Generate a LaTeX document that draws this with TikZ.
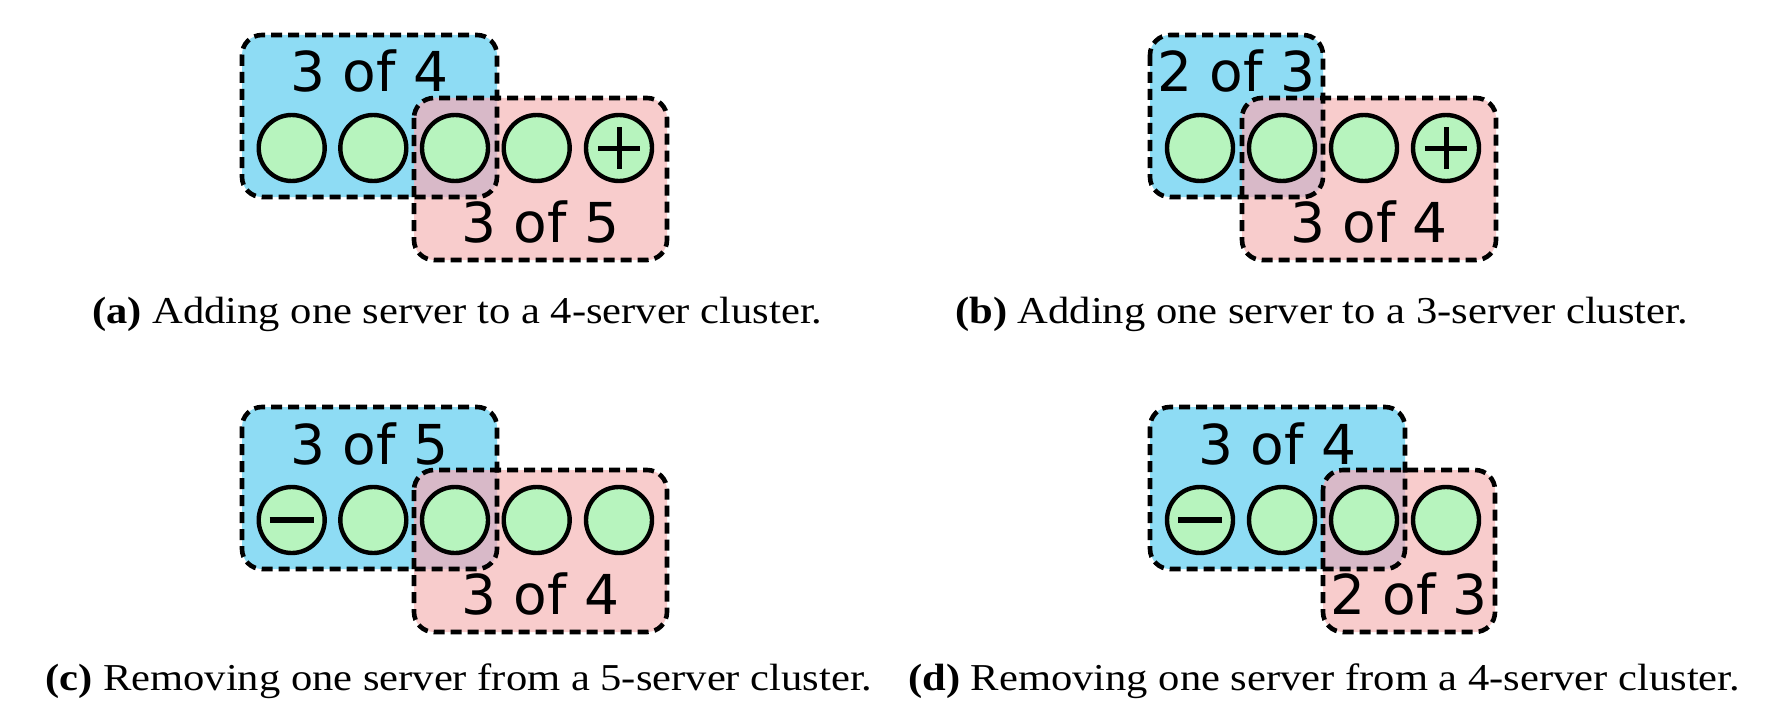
\documentclass[tikz,border=0pt]{standalone}
\usepackage{fontspec}
\usepackage{graphicx}
\setmainfont{Liberation Serif}
\newfontfamily\labelfont{DejaVu Sans}
\definecolor{bluefill}{HTML}{8EDCF4}
\definecolor{pinkfill}{HTML}{F8CCCC}
\definecolor{overlapfill}{HTML}{D8B9C8}
\definecolor{srvfill}{HTML}{B7F4BE}
\tikzset{
  groupborder/.style={draw=black, line width=4.6pt, dash pattern=on 11pt off 6pt, rounded corners=20pt},
  srv/.style={circle, draw=black, fill=srvfill, line width=4.4pt, minimum size=66pt, inner sep=0pt},
  grouplabel/.style={anchor=base, inner sep=0pt, font=\labelfont\fontsize{55}{60}\selectfont},
  caption/.style={anchor=base west, inner sep=0pt, font=\fontsize{38}{42}\selectfont},
  signline/.style={line width=5pt},
  minusline/.style={line width=6.5pt}
}
\newcommand{\groupboxes}[8]{%
  \fill[bluefill, rounded corners=20pt] (#1,#2) rectangle (#3,#4);
  \fill[pinkfill, rounded corners=20pt] (#5,#6) rectangle (#7,#8);
  \begin{scope}
    \clip[rounded corners=20pt] (#1,#2) rectangle (#3,#4);
    \fill[overlapfill, rounded corners=20pt] (#5,#6) rectangle (#7,#8);
  \end{scope}
  \draw[groupborder] (#1,#2) rectangle (#3,#4);
  \draw[groupborder] (#5,#6) rectangle (#7,#8);
}
\begin{document}
\begin{tikzpicture}[x=1pt, y=-1pt]
\useasboundingbox (0,0) rectangle (1766,706);
% ---------- panel (a)
\groupboxes{242}{35}{497}{197}{414}{98}{667}{260}
\node[srv] (a1) at (291.7,148) {};
\node[srv] (a2) at (373.3,148) {};
\node[srv] (a3) at (455,148) {};
\node[srv] (a4) at (536.7,148) {};
\node[srv] (a5) at (619,148) {};
\draw[signline] ([xshift=-21pt]a5.center) -- ([xshift=21pt]a5.center);
\draw[signline] ([yshift=-21pt]a5.center) -- ([yshift=21pt]a5.center);
\node[grouplabel] (aold) at (369.5,92) {3 of 4};
\node[grouplabel] (anew) at (540.5,242) {3 of 5};
\node[caption] (acap) at (92,323) {\scalebox{1.12}[1]{\textbf{(a)} Adding one server to a 4-server cluster.}};
% ---------- panel (b)
\groupboxes{1150}{35}{1323}{197}{1242}{98}{1496}{260}
\node[srv] (b1) at (1200,148) {};
\node[srv] (b2) at (1282,148) {};
\node[srv] (b3) at (1364,148) {};
\node[srv] (b4) at (1446,148) {};
\draw[signline] ([xshift=-21pt]b4.center) -- ([xshift=21pt]b4.center);
\draw[signline] ([yshift=-21pt]b4.center) -- ([yshift=21pt]b4.center);
\node[grouplabel] (bold) at (1236.5,92) {2 of 3};
\node[grouplabel] (bnew) at (1369,242) {3 of 4};
\node[caption] (bcap) at (955,323) {\scalebox{1.12}[1]{\textbf{(b)} Adding one server to a 3-server cluster.}};
% ---------- panel (c)
\groupboxes{242}{407}{497}{569}{414}{470}{667}{632}
\node[srv] (c1) at (291.7,520) {};
\node[srv] (c2) at (373.3,520) {};
\node[srv] (c3) at (455,520) {};
\node[srv] (c4) at (536.7,520) {};
\node[srv] (c5) at (619,520) {};
\draw[minusline] ([xshift=-22pt]c1.center) -- ([xshift=22pt]c1.center);
\node[grouplabel] (cold) at (369.5,464) {3 of 5};
\node[grouplabel] (cnew) at (540.5,614) {3 of 4};
\node[caption] (ccap) at (45,690) {\scalebox{1.12}[1]{\textbf{(c)} Removing one server from a 5-server cluster.}};
% ---------- panel (d)
\groupboxes{1150}{407}{1405}{569}{1323}{470}{1495}{632}
\node[srv] (d1) at (1200,520) {};
\node[srv] (d2) at (1282,520) {};
\node[srv] (d3) at (1364,520) {};
\node[srv] (d4) at (1446,520) {};
\draw[minusline] ([xshift=-22pt]d1.center) -- ([xshift=22pt]d1.center);
\node[grouplabel] (dold) at (1277.5,464) {3 of 4};
\node[grouplabel] (dnew) at (1409,614) {2 of 3};
\node[caption] (dcap) at (908,690) {\scalebox{1.12}[1]{\textbf{(d)} Removing one server from a 4-server cluster.}};
\end{tikzpicture}
\end{document}
